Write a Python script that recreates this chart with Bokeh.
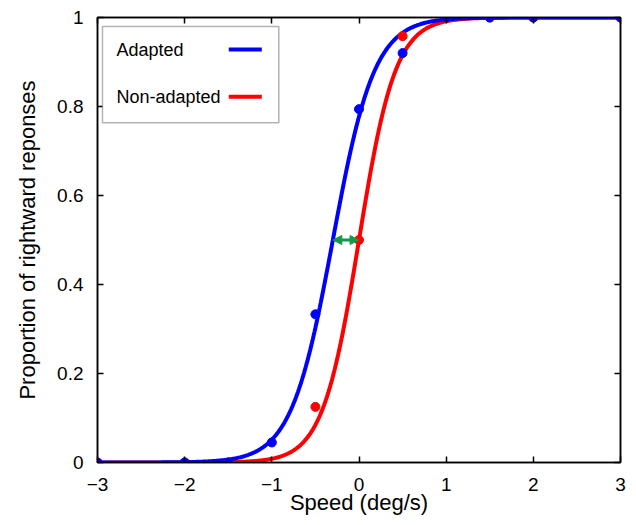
import math
import numpy as np
from bokeh.plotting import figure
from bokeh.models import (LinearAxis, FixedTicker, Range1d, BoxAnnotation, Label,
                          Arrow, NormalHead)
from bokeh.embed import file_html
from bokeh.resources import INLINE

# ---- data ----
adapted_x = [-3, -2, -1.5, -1, -0.5, 0, 0.5, 1, 1.5, 2, 3]
adapted_y = [0.0, 0.0, 0.0, 0.045, 0.333, 0.794, 0.92, 1.0, 1.0, 1.0, 1.0]
nonadapted_x = [-3, -2, -1.5, -0.5, 0, 0.5, 1, 1.5, 2, 3]
nonadapted_y = [0.0, 0.0, 0.0, 0.125, 0.5, 0.958, 1.0, 1.0, 1.0, 1.0]

# fitted psychometric functions (logistic): point of subjective equality, slope scale
adapted_fit = (-0.30, 0.24)
nonadapted_fit = (0.0, 0.21)

x_ticks = [-3, -2, -1, 0, 1, 2, 3]
x_tick_labels = ["\u22123", "\u22122", "\u22121", "0", "1", "2", "3"]
y_ticks = [0, 0.2, 0.4, 0.6, 0.8, 1.0]
y_tick_labels = ["0", "0.2", "0.4", "0.6", "0.8", "1"]

legend_labels = ["Adapted", "Non-adapted"]

BLUE = "#0000ff"
RED = "#ff0000"
GREEN = "#12994a"
FONT = "Liberation Sans"


def logistic(xs, mu, s):
    return [1.0 / (1.0 + math.exp(-(x - mu) / s)) for x in xs]


xs = np.linspace(-3, 3, 601).tolist()
blue_curve = logistic(xs, *adapted_fit)
red_curve = logistic(xs, *nonadapted_fit)

p = figure(width=628, height=517, output_backend="svg", toolbar_location=None,
           x_range=Range1d(-3, 3), y_range=Range1d(0, 1),
           min_border_left=97, min_border_right=8, min_border_top=17, min_border_bottom=50)
p.background_fill_color = "white"
p.border_fill_color = "white"
p.outline_line_color = "black"
p.outline_line_width = 1.5
p.xgrid.visible = False
p.ygrid.visible = False


def style_axis(ax, ticks, labels, show_labels=True):
    ax.ticker = FixedTicker(ticks=ticks)
    ax.minor_tick_line_color = None
    ax.major_tick_in = 6
    ax.major_tick_out = 0
    ax.major_tick_line_width = 1.5
    ax.axis_line_width = 1.5
    ax.major_tick_line_color = "black"
    ax.axis_line_color = "black"
    if show_labels:
        ax.major_label_overrides = {t: l for t, l in zip(ticks, labels)}
        ax.major_label_text_font = FONT
        ax.major_label_text_font_size = "19px"
        ax.major_label_text_color = "black"
    else:
        ax.major_label_text_color = None
        ax.major_label_standoff = 0
    ax.axis_label_text_font = FONT
    ax.axis_label_text_font_size = "22px"
    ax.axis_label_text_font_style = "normal"
    ax.axis_label_text_color = "black"


style_axis(p.xaxis[0], x_ticks, x_tick_labels)
style_axis(p.yaxis[0], y_ticks, y_tick_labels)
p.xaxis[0].axis_label = "Speed (deg/s)"
p.yaxis[0].axis_label = "Proportion of rightward reponses"
p.xaxis[0].major_label_standoff = 15
p.yaxis[0].major_label_standoff = 14
p.xaxis[0].axis_label_standoff = -4
p.yaxis[0].axis_label_standoff = 14

top = LinearAxis()
style_axis(top, x_ticks, x_tick_labels, show_labels=False)
p.add_layout(top, "above")
right = LinearAxis()
style_axis(right, y_ticks, y_tick_labels, show_labels=False)
p.add_layout(right, "right")

# curves
p.line(xs, red_curve, line_color=RED, line_width=4)
p.line(xs, blue_curve, line_color=BLUE, line_width=4)
# points
p.scatter(nonadapted_x, nonadapted_y, size=9, color=RED)
p.scatter(adapted_x, adapted_y, size=9, color=BLUE)

# shift arrow between the two 50% points
p.add_layout(Arrow(x_start=adapted_fit[0], y_start=0.5, x_end=nonadapted_fit[0], y_end=0.5,
                   line_color=GREEN, line_width=3,
                   start=NormalHead(size=9, fill_color=GREEN, line_color=GREEN),
                   end=NormalHead(size=9, fill_color=GREEN, line_color=GREEN)))

# legend (text left, line sample right)
p.add_layout(BoxAnnotation(left=-2.943, right=-0.920, top=0.980, bottom=0.7635,
                           fill_color="white", fill_alpha=1.0,
                           line_color="black", line_width=1.5))
for lab, yy, col in zip(legend_labels, [0.928, 0.822], [BLUE, RED]):
    p.add_layout(Label(x=-2.782, y=yy, text=lab, text_font=FONT, text_font_size="18px",
                       text_baseline="middle", text_color="black"))
    p.add_layout(Arrow(x_start=-1.494, y_start=yy, x_end=-1.115, y_end=yy,
                       line_color=col, line_width=4, end=None, start=None))

open("out.html", "w").write(file_html(p, INLINE))
